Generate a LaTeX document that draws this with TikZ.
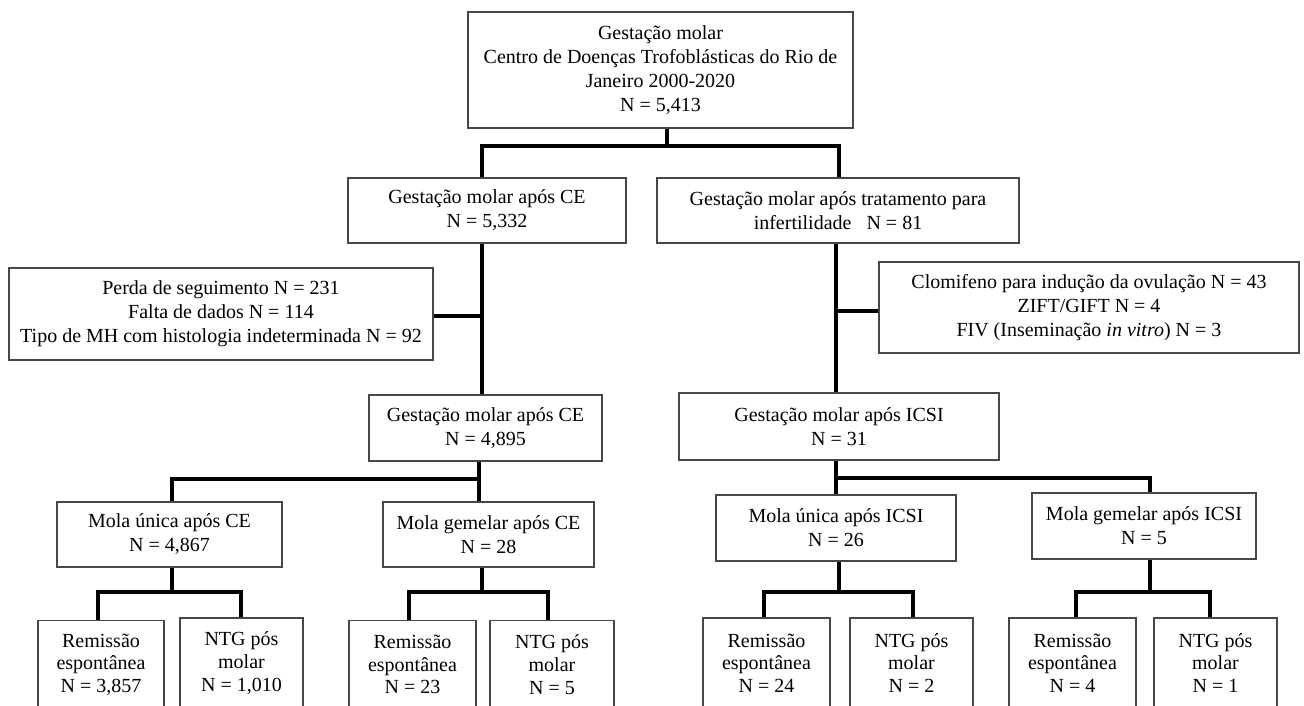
\documentclass[tikz,border=0pt]{standalone}
\usepackage{fontspec}
\setmainfont{Liberation Serif}
\begin{document}
\begin{tikzpicture}[x=0.75pt,y=-0.75pt,
  box/.style={draw=black!72, line width=0.9pt, align=center, inner sep=0pt,
    font=\fontsize{15}{18}\selectfont, fill=white},
  small/.style={font=\fontsize{15}{17}\selectfont},
  conn/.style={line width=3pt, line cap=butt},
  bw/.style={minimum width={#1*0.75pt}},
  bh/.style={minimum height={#1*0.75pt}}]
\useasboundingbox (0,0) rectangle (1304,706);
\begin{scope}
\clip (0,0) rectangle (1304,706);

% boxes
\node[box,bw=385,bh=116] (top) at (660.5,70) {Gestação molar\\Centro de Doenças Trofoblásticas do Rio de\\Janeiro 2000-2020\\N = 5,413};
\node[box,bw=278,bh=65] (ce1) at (487,210.5) {Gestação molar após CE\\N = 5,332};
\node[box,bw=362,bh=65] (inf) at (838,210.5) {Gestação molar após tratamento para\\infertilidade\ \ \ N = 81};
\node[box,bw=424,bh=92] (excl) at (221,314) {Perda de seguimento N = 231\\Falta de dados N = 114\\Tipo de MH com histologia indeterminada N = 92};
\node[box,bw=420,bh=91] (clom) at (1089,307.5) {Clomifeno para indução da ovulação N = 43\\ZIFT/GIFT N = 4\\FIV (Inseminação \textit{in vitro}) N = 3};
\node[box,bw=233,bh=66] (ce2) at (485.5,428) {Gestação molar após CE\\N = 4,895};
\node[box,bw=320,bh=67] (icsi) at (839,426.5) {Gestação molar após ICSI\\N = 31};
\node[box,bw=225,bh=65] (mu1) at (169.5,534.5) {Mola única após CE\\N = 4,867};
\node[box,bw=211,bh=65] (mg1) at (488.5,534.5) {Mola gemelar após CE\\N = 28};
\node[box,bw=240,bh=66] (mu2) at (836,528) {Mola única após ICSI\\N = 26};
\node[box,bw=224,bh=66] (mg2) at (1144,526) {Mola gemelar após ICSI\\N = 5};

\node[box,small,bw=126,bh=88] (r1) at (101,664.5) {Remissão\\espontânea\\N = 3,857};
\node[box,small,bw=123,bh=90] (n1) at (241.5,663) {NTG pós\\molar\\N = 1,010};
\node[box,small,bw=127,bh=88] (r2) at (412.5,664.5) {Remissão\\espontânea\\N = 23};
\node[box,small,bw=124,bh=88] (n2) at (552,664.5) {NTG pós\\molar\\N = 5};
\node[box,small,bw=127,bh=90] (r3) at (766.5,663) {Remissão\\espontânea\\N = 24};
\node[box,small,bw=123,bh=90] (n3) at (911.5,663) {NTG pós\\molar\\N = 2};
\node[box,small,bw=127,bh=90] (r4) at (1072.5,663) {Remissão\\espontânea\\N = 4};
\node[box,small,bw=123,bh=90] (n4) at (1215.5,663) {NTG pós\\molar\\N = 1};

% junction coordinates
\coordinate (j0) at (667,146);
\coordinate (jl) at (482,146);
\coordinate (jr) at (839,146);
\coordinate (v1) at (482,316);
\coordinate (v2) at (836,311);
\coordinate (k0) at (479,479);
\coordinate (kl) at (172,479);
\coordinate (m0) at (836,478);
\coordinate (mr) at (1150,478);
\coordinate (a0) at (172,592);
\coordinate (al) at (98,592);
\coordinate (ar) at (241,592);
\coordinate (b0) at (482,592);
\coordinate (bl) at (409,592);
\coordinate (br) at (548,592);
\coordinate (c0) at (839,592);
\coordinate (cl) at (764,592);
\coordinate (cr) at (913,592);
\coordinate (d0) at (1150,592);
\coordinate (dl) at (1076,592);
\coordinate (dr) at (1210,592);

% connectors
\draw[conn] (top.south -| j0) -- (j0);
\draw[conn] (ce1.north -| jl) -- (jl) -- (jr) -- (inf.north -| jr);
\draw[conn] (ce1.south -| v1) -- (ce2.north -| v1);
\draw[conn] (excl.east |- v1) -- (v1);
\draw[conn] (inf.south -| v2) -- (icsi.north -| v2);
\draw[conn] (clom.west |- v2) -- (v2);

\draw[conn] (ce2.south -| k0) -- (mg1.north -| k0);
\draw[conn] (k0) -- (kl) -- (mu1.north -| kl);
\draw[conn] (icsi.south -| m0) -- (mu2.north -| m0);
\draw[conn] (m0) -- (mr) -- (mg2.north -| mr);

\draw[conn] (mu1.south -| a0) -- (a0);
\draw[conn] (r1.north -| al) -- (al) -- (ar) -- (n1.north -| ar);
\draw[conn] (mg1.south -| b0) -- (b0);
\draw[conn] (r2.north -| bl) -- (bl) -- (br) -- (n2.north -| br);
\draw[conn] (mu2.south -| c0) -- (c0);
\draw[conn] (r3.north -| cl) -- (cl) -- (cr) -- (n3.north -| cr);
\draw[conn] (mg2.south -| d0) -- (d0);
\draw[conn] (r4.north -| dl) -- (dl) -- (dr) -- (n4.north -| dr);
\end{scope}
\end{tikzpicture}
\end{document}
